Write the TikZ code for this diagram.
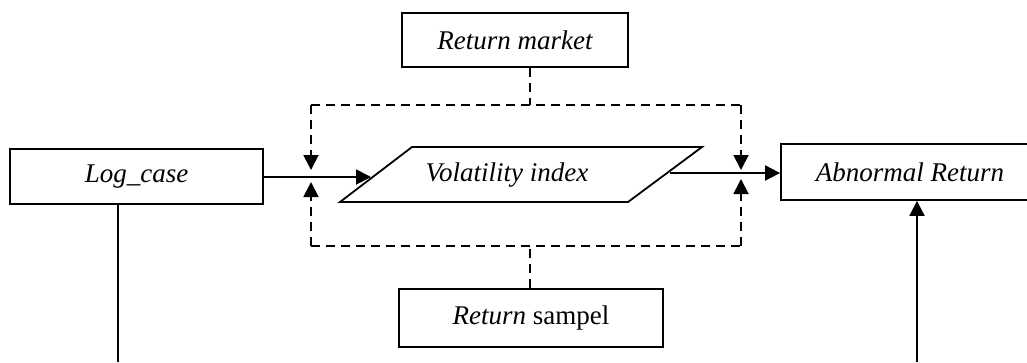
\documentclass[tikz,border=0pt]{standalone}
\usepackage{fontspec}
\setmainfont{Liberation Serif}
\usetikzlibrary{arrows.meta}
\begin{document}
\begin{tikzpicture}[x=1pt,y=-1pt,
  box/.style={draw,line width=1.8pt,rectangle,inner sep=0pt,align=center,font=\fontsize{27}{31}\selectfont},
  arr/.style={line width=1.9pt,-{Triangle[length=15pt,width=15pt]}},
  dsh/.style={line width=1.9pt,dash pattern=on 9pt off 6pt},
  dsharr/.style={dsh,-{Triangle[length=15pt,width=15pt]}}]
\useasboundingbox (0,0) rectangle (1027,362);
\clip (0,0) rectangle (1027,362);
% boxes
\node[box,minimum width=253pt,minimum height=55pt] (lc) at (136.5,176.5) {\itshape Log\_case};
\node[box,minimum width=226pt,minimum height=54pt] (rm) at (515,40) {\itshape Return market};
\node[box,minimum width=264pt,minimum height=58pt] (rs) at (531,318) {\textit{Return} sampel};
\node[box,minimum width=258pt,minimum height=56pt] (ar) at (910,172) {\itshape Abnormal Return};
% parallelogram
\coordinate (p1) at (412,147);
\coordinate (p2) at (702,147);
\coordinate (p3) at (628,202);
\coordinate (p4) at (340,202);
\draw[line width=1.8pt,line join=miter] (p1) -- (p2) -- (p3) -- (p4) -- cycle;
\node[font=\fontsize{27}{31}\selectfont\itshape,inner sep=0pt] (vi) at (507,175) {Volatility index};
\coordinate (vin) at (371,177);
\coordinate (vout) at (670,173);
% dashed frame corners
\coordinate (tl) at (311,105);
\coordinate (tr) at (741,105);
\coordinate (bl) at (311,246);
\coordinate (br) at (741,246);
\coordinate (rmj) at (530,105);
\coordinate (rsj) at (530,246);
\coordinate (ltip) at (311,170);
\coordinate (lbtip) at (311,182);
\coordinate (rtip) at (741,170);
\coordinate (rbtip) at (741,179);
% main arrows
\draw[arr] (lc.east |- vin) -- (vin);
\draw[arr] (vout) -- (ar.west |- vout);
% dashed frame
\draw[dsh] (rm.south -| rmj) -- (rmj);
\draw[dsh] (rs.north -| rsj) -- (rsj);
\draw[dsh] (tl) -- (tr);
\draw[dsh] (bl) -- (br);
\draw[dsharr] (tl) -- (ltip);
\draw[dsharr] (bl) -- (lbtip);
\draw[dsharr] (tr) -- (rtip);
\draw[dsharr] (br) -- (rbtip);
% bottom lines
\coordinate (lcb) at (118,362);
\coordinate (arb) at (917,362);
\draw[line width=1.5pt] (lc.south -| lcb) -- (lcb);
\draw[arr] (arb) -- (ar.south -| arb);
\end{tikzpicture}
\end{document}
